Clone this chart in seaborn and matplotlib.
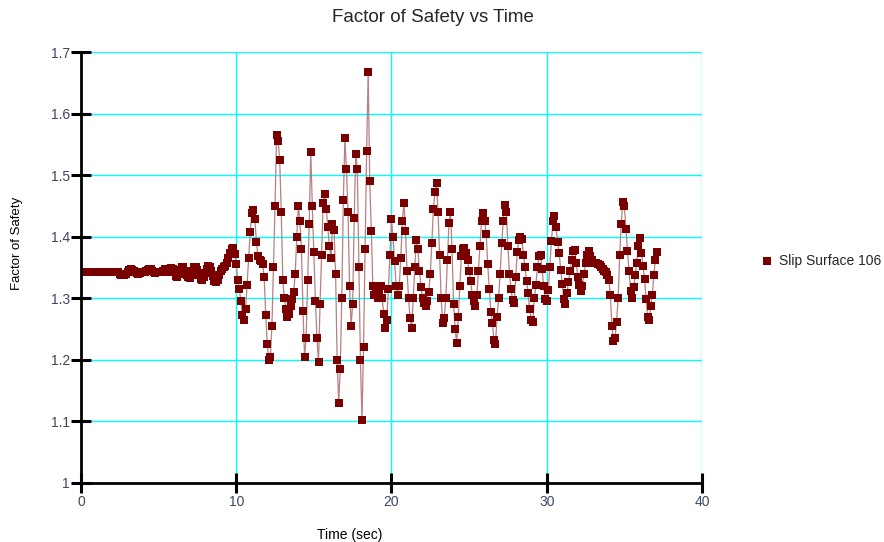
#!/usr/bin/env python

import numpy as np
import pandas as pd
import matplotlib
matplotlib.use('Agg')
import matplotlib.pyplot as plt
import seaborn as sns

# Factor of safety, one value every 0.1 s (row = 1 s)
TIME_STEP = 0.1
FOS = [
    1.342, 1.342, 1.342, 1.342, 1.342, 1.342, 1.342, 1.342, 1.342, 1.342,
    1.342, 1.342, 1.342, 1.342, 1.342, 1.342, 1.342, 1.342, 1.342, 1.342,
    1.342, 1.342, 1.342, 1.342, 1.342, 1.340, 1.338, 1.337, 1.337, 1.339,
    1.343, 1.346, 1.347, 1.346, 1.344, 1.342, 1.341, 1.340, 1.341, 1.342,
    1.342, 1.342, 1.344, 1.346, 1.348, 1.347, 1.344, 1.342, 1.341, 1.342,
    1.343, 1.342, 1.343, 1.345, 1.347, 1.346, 1.343, 1.345, 1.349, 1.348,
    1.343, 1.336, 1.335, 1.339, 1.346, 1.351, 1.350, 1.345, 1.338, 1.334,
    1.333, 1.337, 1.344, 1.350, 1.351, 1.346, 1.338, 1.331, 1.330, 1.334,
    1.341, 1.348, 1.352, 1.350, 1.344, 1.336, 1.328, 1.326, 1.330, 1.338,
    1.344, 1.347, 1.350, 1.353, 1.358, 1.365, 1.374, 1.380, 1.382, 1.372,
    1.355, 1.330, 1.315, 1.295, 1.272, 1.265, 1.282, 1.322, 1.365, 1.408,
    1.438, 1.444, 1.428, 1.392, 1.368, 1.362, 1.360, 1.356, 1.335, 1.272,
    1.225, 1.200, 1.205, 1.255, 1.350, 1.450, 1.565, 1.555, 1.525, 1.440,
    1.330, 1.300, 1.282, 1.270, 1.275, 1.288, 1.298, 1.310, 1.340, 1.400,
    1.450, 1.425, 1.380, 1.280, 1.205, 1.235, 1.330, 1.420, 1.538, 1.450,
    1.375, 1.296, 1.235, 1.197, 1.290, 1.370, 1.455, 1.470, 1.445, 1.415,
    1.385, 1.365, 1.420, 1.411, 1.340, 1.200, 1.130, 1.185, 1.300, 1.460,
    1.560, 1.510, 1.440, 1.320, 1.255, 1.290, 1.430, 1.535, 1.510, 1.351,
    1.200, 1.102, 1.220, 1.380, 1.540, 1.668, 1.490, 1.410, 1.320, 1.305,
    1.318, 1.300, 1.310, 1.320, 1.300, 1.275, 1.251, 1.265, 1.315, 1.370,
    1.428, 1.400, 1.360, 1.320, 1.305, 1.320, 1.365, 1.425, 1.455, 1.410,
    1.345, 1.300, 1.268, 1.252, 1.300, 1.350, 1.395, 1.380, 1.345, 1.318,
    1.300, 1.292, 1.288, 1.295, 1.310, 1.340, 1.390, 1.445, 1.472, 1.488,
    1.440, 1.370, 1.300, 1.260, 1.268, 1.300, 1.362, 1.422, 1.440, 1.380,
    1.290, 1.250, 1.227, 1.270, 1.320, 1.368, 1.380, 1.381, 1.374, 1.362,
    1.345, 1.328, 1.305, 1.295, 1.287, 1.305, 1.345, 1.385, 1.425, 1.438,
    1.425, 1.405, 1.355, 1.315, 1.278, 1.260, 1.232, 1.225, 1.270, 1.300,
    1.340, 1.389, 1.425, 1.452, 1.440, 1.385, 1.340, 1.315, 1.297, 1.292,
    1.335, 1.375, 1.395, 1.400, 1.396, 1.370, 1.350, 1.328, 1.308, 1.282,
    1.265, 1.262, 1.300, 1.322, 1.350, 1.368, 1.370, 1.348, 1.320, 1.298,
    1.295, 1.313, 1.350, 1.393, 1.425, 1.433, 1.415, 1.392, 1.374, 1.346,
    1.323, 1.298, 1.290, 1.308, 1.326, 1.345, 1.362, 1.376, 1.378, 1.358,
    1.335, 1.322, 1.312, 1.320, 1.340, 1.357, 1.371, 1.376, 1.368, 1.362,
    1.358, 1.358, 1.357, 1.356, 1.354, 1.351, 1.348, 1.344, 1.342, 1.338,
    1.330, 1.305, 1.255, 1.230, 1.235, 1.262, 1.300, 1.370, 1.420, 1.456,
    1.450, 1.413, 1.377, 1.345, 1.312, 1.300, 1.318, 1.338, 1.358, 1.385,
    1.398, 1.374, 1.352, 1.332, 1.298, 1.270, 1.265, 1.288, 1.305, 1.338,
    1.362, 1.375,
]

X_TICKS = [0, 10, 20, 30, 40]
Y_TICKS = [1.0, 1.1, 1.2, 1.3, 1.4, 1.5, 1.6, 1.7]
Y_TICK_LABELS = ['1', '1.1', '1.2', '1.3', '1.4', '1.5', '1.6', '1.7']
SERIES_NAME = 'Slip Surface 106'

MARKER_COLOR = '#7a0000'
LINE_COLOR = '#b88080'
GRID_COLOR = '#00ffff'
LABEL_COLOR = '#3d4663'


def main():
    sns.set_style('white')
    plt.rcParams['font.family'] = ['Liberation Sans', 'DejaVu Sans']

    time = np.round(np.arange(len(FOS)) * TIME_STEP, 1)
    df = pd.DataFrame({'Time (sec)': time, 'Factor of Safety': FOS})

    fig = plt.figure(figsize=(8.84, 5.42), dpi=100)
    ax = fig.add_axes([0.0916, 0.109, 0.7025, 0.795])

    sns.lineplot(data=df, x='Time (sec)', y='Factor of Safety', ax=ax,
                 color=LINE_COLOR, linewidth=0.9, legend=False, zorder=2)
    sns.scatterplot(data=df, x='Time (sec)', y='Factor of Safety', ax=ax,
                    marker='s', s=28, color=MARKER_COLOR, linewidth=0,
                    label=SERIES_NAME, zorder=3)

    ax.set_xlim(0, 40)
    ax.set_ylim(1.0, 1.7)
    ax.set_xticks(X_TICKS)
    ax.set_yticks(Y_TICKS)
    ax.set_yticklabels(Y_TICK_LABELS)
    ax.grid(True, color=GRID_COLOR, linewidth=1)
    ax.set_axisbelow(True)

    for side in ['top', 'right']:
        ax.spines[side].set_visible(False)
    for side in ['left', 'bottom']:
        ax.spines[side].set_color('black')
        ax.spines[side].set_linewidth(2)
        ax.spines[side].set_zorder(4)
    ax.tick_params(bottom=True, left=True, direction='inout', length=14,
                   width=2.2, color='black', labelcolor=LABEL_COLOR,
                   labelsize=10)
    ax.tick_params(axis='y', pad=1)
    ax.tick_params(axis='x', pad=2)

    ax.set_xlabel('Time (sec)', fontsize=10, color='black')
    ax.set_ylabel('Factor of Safety', fontsize=9.5, color='black')
    ax.xaxis.set_label_coords(0.432, -0.104)
    ax.yaxis.set_label_coords(-0.093, 0.555)

    fig.text(0.49, 1 - 17 / 542, 'Factor of Safety vs Time',
             ha='center', va='center', fontsize=13.5)

    ax.legend(loc='center left', bbox_to_anchor=(1.084, 0.515),
              frameon=False, fontsize=10, handlelength=1.0,
              handletextpad=0.4, borderaxespad=0.0)

    fig.savefig('out.png', dpi=100)


if __name__ == '__main__':
    main()
